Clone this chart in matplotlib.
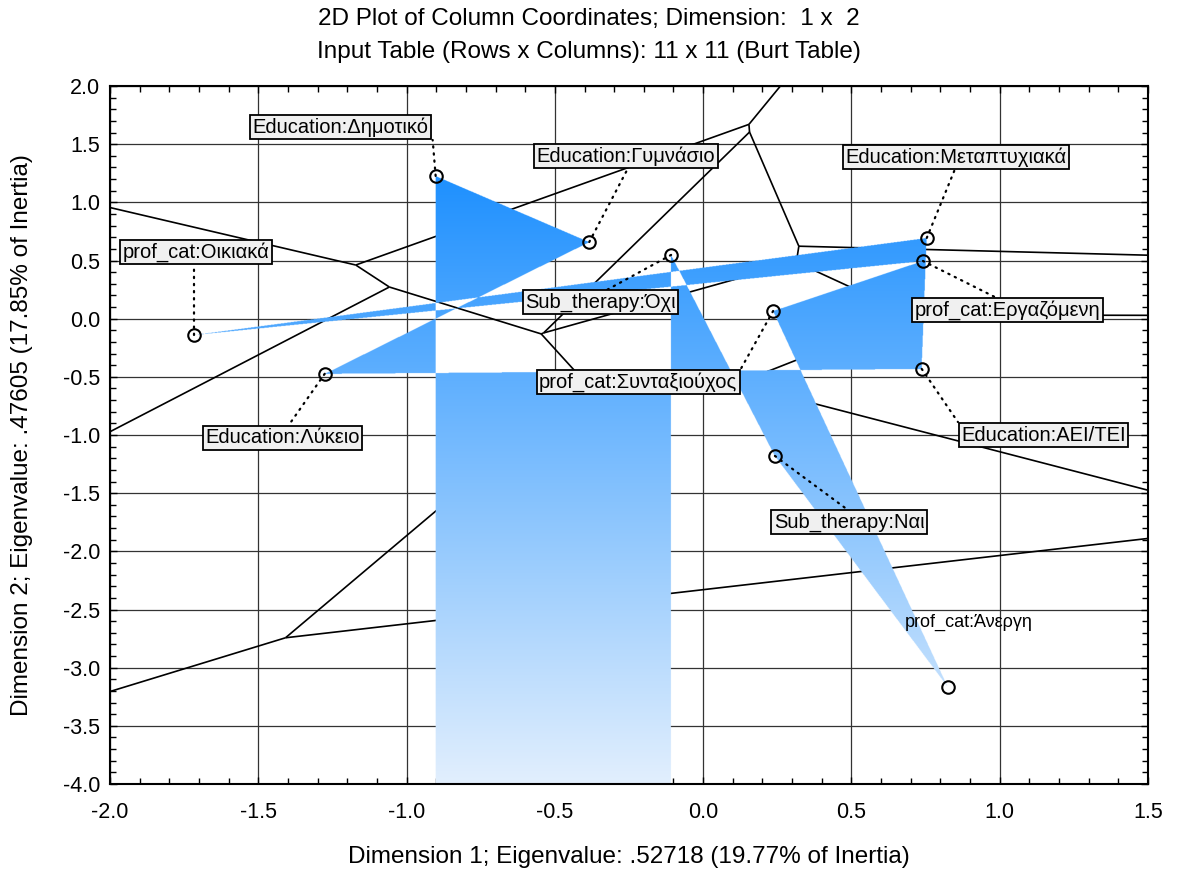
import numpy as np
import matplotlib
matplotlib.use("Agg")
import matplotlib.pyplot as plt
import matplotlib.tri as mtri
from matplotlib.collections import LineCollection
from matplotlib.ticker import MultipleLocator

plt.rcParams['font.family'] = ['Liberation Sans', 'DejaVu Sans']

# ---- data (column coordinates, in table order) ----
labels = ["Education:Δημοτικό", "Education:Γυμνάσιο", "Education:Λύκειο",
          "Education:AEI/TEI", "Education:Μεταπτυχιακά", "prof_cat:Οικιακά",
          "prof_cat:Εργαζόμενη", "prof_cat:Συνταξιούχος", "prof_cat:Άνεργη",
          "Sub_therapy:Ναι", "Sub_therapy:Όχι"]
dim1 = [-0.902, -0.384, -1.276, 0.737, 0.754, -1.717, 0.741, 0.236, 0.825, 0.242, -0.108]
dim2 = [1.227, 0.659, -0.474, -0.432, 0.694, -0.140, 0.496, 0.066, -3.166, -1.180, 0.548]

xticks = [-2.0, -1.5, -1.0, -0.5, 0.0, 0.5, 1.0, 1.5]
yticks = [2.0, 1.5, 1.0, 0.5, 0.0, -0.5, -1.0, -1.5, -2.0, -2.5, -3.0, -3.5, -4.0]

# ---- layout: label centres and leader anchors (data coords) ----
label_pos = [(-1.222, 1.648), (-0.260, 1.399), (-1.418, -1.025), (1.148, -1.000),
             (0.852, 1.390), (-1.710, 0.573), (1.027, 0.075), (-0.219, -0.544),
             (0.896, -2.609), (0.492, -1.747), (-0.347, 0.144)]
leader_end = [(-0.912, 1.536), (-0.253, 1.295), (-1.397, -0.914), (0.859, -0.888),
              (0.848, 1.278), (-1.717, 0.462), (0.990, 0.178), (0.125, -0.441),
              None, (0.488, -1.644), (-0.337, 0.230)]
boxed = [True] * 8 + [False] + [True, True]

xmin, xmax, ymin, ymax = -2.0, 1.5, -4.0, 2.0

fig = plt.figure(figsize=(11.78, 8.71), dpi=100)
ax = fig.add_axes([110/1178, 1-784/871, (1148-110)/1178, (784-86)/871])

px = np.array(dim1); py = np.array(dim2)
pts = np.column_stack([px, py])

# ---- Voronoi tessellation from Delaunay triangulation ----
tri = mtri.Triangulation(px, py)
T = tri.triangles; NB = tri.neighbors
def circumcenter(a, b, c):
    ax_, ay_ = a; bx, by = b; cx, cy = c
    d = 2 * (ax_*(by-cy) + bx*(cy-ay_) + cx*(ay_-by))
    ux = ((ax_**2+ay_**2)*(by-cy) + (bx**2+by**2)*(cy-ay_) + (cx**2+cy**2)*(ay_-by)) / d
    uy = ((ax_**2+ay_**2)*(cx-bx) + (bx**2+by**2)*(ax_-cx) + (cx**2+cy**2)*(bx-ax_)) / d
    return np.array([ux, uy])
cc = np.array([circumcenter(*pts[t]) for t in T])
segs = []
for t in range(len(T)):
    for j in range(3):
        n = NB[t, j]
        if n == -1:
            i1, i2, i3 = T[t, j], T[t, (j+1) % 3], T[t, (j+2) % 3]
            mid = (pts[i1] + pts[i2]) / 2
            d = pts[i2] - pts[i1]
            nrm = np.array([d[1], -d[0]])
            if np.dot(nrm, pts[i3] - mid) > 0:
                nrm = -nrm
            nrm = nrm / np.linalg.norm(nrm)
            segs.append([cc[t], cc[t] + nrm * 50])
        elif n > t:
            segs.append([cc[t], cc[n]])
ax.add_collection(LineCollection(segs, colors='black', linewidths=1.2, zorder=1.5))

# ---- area polygon (even-odd fill, vertical gradient) ----
order = list(range(len(labels)))
vx = [px[i] for i in order] + [px[order[-1]], px[order[0]]]
vy = [py[i] for i in order] + [ymin - 0.01, ymin - 0.01]
nxg, nyg = 2400, 1600
gx = np.linspace(xmin, xmax, nxg)
gy = np.linspace(ymin, ymax, nyg)
inside = np.zeros((nyg, nxg), dtype=bool)
nv = len(vx)
for k in range(nv):
    x1, y1 = vx[k], vy[k]
    x2, y2 = vx[(k+1) % nv], vy[(k+1) % nv]
    cond = (y1 > gy) != (y2 > gy)
    with np.errstate(divide='ignore', invalid='ignore'):
        xint = x1 + (gy - y1) * (x2 - x1) / (y2 - y1)
    cross = cond[:, None] & (gx[None, :] < xint[:, None])
    inside ^= cross
top_c = np.array([30, 144, 255]) / 255
bot_c = np.array([226, 239, 253]) / 255
ytop = max(vy)
f = np.clip((ytop - gy) / (ytop - ymin), 0, 1)
cols = top_c[None, :] * (1 - f[:, None]) + bot_c[None, :] * f[:, None]
img = np.zeros((nyg, nxg, 4))
img[..., :3] = cols[:, None, :]
img[..., 3] = inside.astype(float)
ax.imshow(img, extent=(xmin, xmax, ymin, ymax), origin='lower', aspect='auto',
          interpolation='antialiased', zorder=2)

# ---- leaders, markers, labels ----
for i in range(len(labels)):
    if leader_end[i] is not None:
        ax.plot([px[i], leader_end[i][0]], [py[i], leader_end[i][1]], color='black',
                lw=1.6, linestyle=(0, (0.6, 2.6)), dash_capstyle='round', zorder=3)
ax.plot(px, py, 'o', mfc='none', mec='black', mew=1.5, ms=9, zorder=4, clip_on=False)
for i, lab in enumerate(labels):
    kw = {}
    fs = 13
    if boxed[i]:
        kw['bbox'] = dict(boxstyle='square,pad=0.12', fc='#f0f0f0', ec='black', lw=1.3)
        fs = 14.5
    ax.text(label_pos[i][0], label_pos[i][1], lab, ha='center', va='center',
            fontsize=fs, zorder=5, **kw)

# ---- axes styling ----
ax.set_xlim(xmin, xmax); ax.set_ylim(ymin, ymax)
ax.set_xticks(xticks); ax.set_yticks(yticks)
ax.set_xticklabels([f"{v:.1f}" for v in xticks])
ax.set_yticklabels([f"{v:.1f}" for v in yticks])
ax.xaxis.set_minor_locator(MultipleLocator(0.1))
ax.yaxis.set_minor_locator(MultipleLocator(0.1))
ax.tick_params(which='both', direction='in', top=True, right=True, labelsize=15.5)
ax.tick_params(which='major', length=5, width=1)
ax.tick_params(which='minor', length=4, width=1)
ax.tick_params(axis='x', which='major', pad=13)
ax.tick_params(axis='y', which='major', pad=7)
ax.grid(True, which='major', color='#333333', lw=0.9)
ax.set_axisbelow(True)
for s in ax.spines.values():
    s.set_linewidth(1.5)
ax.set_xlabel("Dimension 1; Eigenvalue: .52718 (19.77% of Inertia)", fontsize=17.5)
ax.set_ylabel("Dimension 2; Eigenvalue: .47605 (17.85% of Inertia)", fontsize=17.5)
ax.xaxis.set_label_coords((629-110)/1038, (784-857)/698)
ax.xaxis.label.set_va('center')
ax.yaxis.set_label_coords((22-110)/1038, 0.5)
ax.yaxis.label.set_va('center')
fig.text(0.5, 1-19/871, "2D Plot of Column Coordinates; Dimension:  1 x  2",
         ha='center', va='center', fontsize=17.5)
fig.text(0.5, 1-52/871, "Input Table (Rows x Columns): 11 x 11 (Burt Table)",
         ha='center', va='center', fontsize=17.5)

fig.savefig("out.png", dpi=100)
